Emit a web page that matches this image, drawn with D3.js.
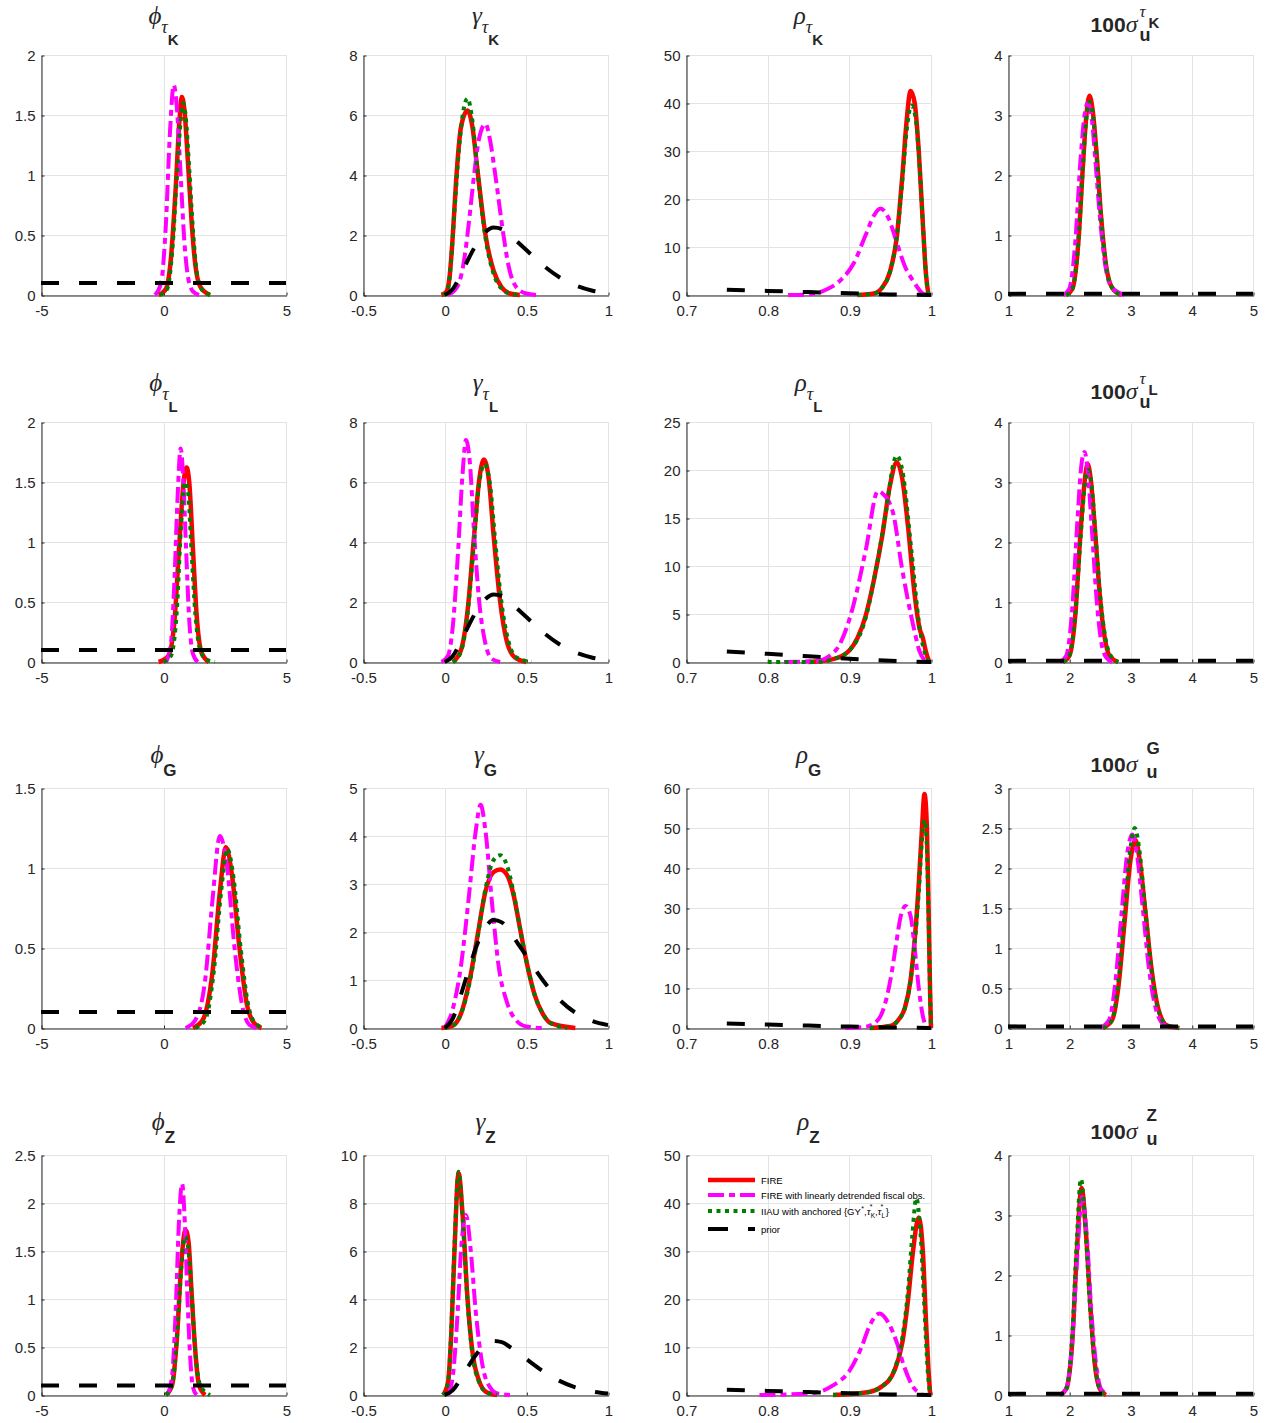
<!DOCTYPE html>
<html>
<head>
<meta charset="utf-8">
<script src="https://cdn.jsdelivr.net/npm/d3@7"></script>
<style>
	body { margin: 0 ; background: #fff ; }
	svg text { fill: #262626 ; }
</style>
</head>
<body>
<svg id="fig"></svg>
<script>
'use strict' ;

// ---- data: [ x, density ] pairs ----
const priorPhi = [ [-5,0.1], [5,0.1] ] ;
const priorGamma = [ [0,0],[0.05,0.2],[0.1,0.7],[0.15,1.25],[0.2,1.75],[0.25,2.1],[0.3,2.25],[0.35,2.2],[0.4,2.0],[0.45,1.75],[0.5,1.5],[0.6,1.0],[0.7,0.6],[0.8,0.32],[0.9,0.15],[1,0.06] ] ;
const priorRho = [ [0.75,1.1],[0.8,0.85],[0.85,0.6],[0.9,0.35],[0.95,0.12],[1,0] ] ;
const priorSigma = [ [1,0.02],[5,0.02] ] ;

const phiTauK_fire = [ [-0.2,0],[0.1,0.05],[0.3,0.3],[0.5,0.9],[0.65,1.45],[0.75,1.65],[0.85,1.55],[1.0,1.1],[1.15,0.6],[1.3,0.25],[1.5,0.07],[1.9,0] ] ;
const phiTauK_detr = [ [-0.35,0],[-0.1,0.1],[0.1,0.6],[0.25,1.3],[0.42,1.75],[0.55,1.55],[0.7,1.0],[0.85,0.45],[1.0,0.15],[1.2,0.03],[1.45,0] ] ;
const phiTauK_iiau = [ [-0.15,0],[0.15,0.05],[0.35,0.35],[0.55,1.0],[0.7,1.45],[0.8,1.6],[0.9,1.5],[1.05,1.05],[1.2,0.55],[1.35,0.2],[1.55,0.05],[1.9,0] ] ;

const gammaTauK_fire = [ [-0.02,0],[0.01,0.1],[0.03,0.6],[0.05,2],[0.07,3.8],[0.1,5.6],[0.14,6.15],[0.17,5.6],[0.2,4.2],[0.25,2],[0.3,0.8],[0.35,0.25],[0.4,0.05],[0.46,0] ] ;
const gammaTauK_detr = [ [0.02,0],[0.08,0.3],[0.12,1.2],[0.15,2.5],[0.18,4],[0.21,5.2],[0.25,5.7],[0.28,5.1],[0.31,4],[0.36,2],[0.39,1],[0.44,0.25],[0.5,0.05],[0.57,0] ] ;
const gammaTauK_iiau = [ [-0.01,0],[0.02,0.2],[0.04,1.2],[0.06,2.8],[0.09,5],[0.12,6.3],[0.14,6.55],[0.17,5.8],[0.2,4.2],[0.25,1.9],[0.3,0.7],[0.35,0.2],[0.4,0.05],[0.47,0] ] ;

const rhoTauK_fire = [ [0.91,0],[0.93,0.3],[0.94,1.5],[0.95,5],[0.958,12],[0.965,25],[0.97,36],[0.975,42.5],[0.98,40],[0.985,30],[0.99,15],[0.994,4],[0.997,0] ] ;
const rhoTauK_detr = [ [0.825,0],[0.85,0.1],[0.87,1],[0.89,3.2],[0.905,6.5],[0.92,12.5],[0.93,16.5],[0.938,18],[0.948,16],[0.958,11],[0.968,6],[0.978,3],[0.99,0.3],[0.995,0] ] ;
const rhoTauK_iiau = [ [0.91,0],[0.93,0.3],[0.94,1.5],[0.95,5],[0.958,12],[0.965,24],[0.97,34],[0.976,39.5],[0.981,37],[0.986,27],[0.99,15],[0.994,4],[0.997,0] ] ;

const sigmaTauK_fire = [ [1.95,0],[2.05,0.1],[2.15,0.9],[2.22,2.1],[2.28,3.0],[2.33,3.32],[2.38,3.1],[2.45,2.3],[2.52,1.3],[2.6,0.5],[2.7,0.12],[2.85,0] ] ;
const sigmaTauK_detr = [ [1.9,0],[2.0,0.1],[2.1,0.9],[2.18,2.2],[2.25,3.0],[2.3,3.2],[2.36,3.0],[2.43,2.2],[2.5,1.3],[2.58,0.55],[2.68,0.15],[2.9,0] ] ;
const sigmaTauK_iiau = [ [1.95,0],[2.05,0.1],[2.15,0.9],[2.22,2.1],[2.28,2.95],[2.33,3.22],[2.38,3.05],[2.45,2.3],[2.52,1.3],[2.6,0.5],[2.7,0.12],[2.85,0] ] ;

const phiTauL_fire = [ [-0.2,0],[0.2,0.05],[0.45,0.35],[0.65,1.0],[0.82,1.5],[0.95,1.62],[1.05,1.5],[1.2,0.95],[1.35,0.4],[1.55,0.08],[1.85,0] ] ;
const phiTauL_detr = [ [0.1,0],[0.3,0.15],[0.45,0.7],[0.57,1.35],[0.7,1.78],[0.8,1.55],[0.92,0.95],[1.05,0.35],[1.2,0.07],[1.4,0] ] ;
const phiTauL_iiau = [ [0,0],[0.3,0.05],[0.55,0.45],[0.72,1.15],[0.88,1.5],[1.0,1.42],[1.15,0.9],[1.3,0.4],[1.5,0.1],[1.75,0.02],[2.1,0] ] ;

const gammaTauL_fire = [ [0.05,0],[0.1,0.4],[0.14,1.7],[0.18,4.2],[0.21,6.0],[0.24,6.75],[0.27,6.1],[0.3,4.2],[0.34,2.0],[0.38,0.7],[0.43,0.15],[0.5,0] ] ;
const gammaTauL_detr = [ [-0.02,0],[0.02,0.2],[0.05,1.2],[0.08,3.5],[0.11,6.3],[0.13,7.4],[0.155,6.6],[0.18,4.3],[0.21,2.1],[0.25,0.6],[0.29,0.1],[0.34,0] ] ;
const gammaTauL_iiau = [ [0.05,0],[0.1,0.35],[0.14,1.6],[0.18,4.0],[0.21,5.9],[0.245,6.6],[0.28,5.8],[0.31,4.0],[0.35,1.9],[0.39,0.7],[0.44,0.15],[0.53,0] ] ;

const rhoTauL_fire = [ [0.85,0],[0.88,0.3],[0.9,1.2],[0.91,2.5],[0.92,4.8],[0.93,8.5],[0.94,13],[0.95,18.5],[0.958,20.8],[0.965,19],[0.972,14],[0.98,7],[0.986,3.5],[0.99,2.5],[0.994,1],[0.998,0] ] ;
const rhoTauL_detr = [ [0.82,0],[0.86,0.1],[0.875,0.6],[0.888,1.8],[0.904,5.6],[0.92,11.6],[0.935,17.8],[0.94,17.6],[0.953,15.7],[0.965,9.5],[0.978,3.9],[0.986,1.1],[0.994,0] ] ;
const rhoTauL_iiau = [ [0.8,0],[0.86,0],[0.88,0.3],[0.9,1.2],[0.92,4.6],[0.933,9.8],[0.945,15.7],[0.955,21],[0.958,21.5],[0.965,19.9],[0.976,11.6],[0.986,3.6],[0.992,1.1],[0.998,0] ] ;

const sigmaTauL_fire = [ [1.9,0],[2.0,0.1],[2.1,0.8],[2.18,2.1],[2.25,3.0],[2.3,3.3],[2.35,3.05],[2.42,2.2],[2.5,1.1],[2.58,0.4],[2.66,0.1],[2.8,0] ] ;
const sigmaTauL_detr = [ [1.85,0],[1.95,0.1],[2.05,0.9],[2.13,2.3],[2.2,3.3],[2.25,3.5],[2.3,3.2],[2.37,2.2],[2.45,1.0],[2.52,0.35],[2.6,0.08],[2.7,0] ] ;
const sigmaTauL_iiau = [ [1.9,0],[2.0,0.1],[2.1,0.8],[2.18,2.0],[2.25,2.9],[2.31,3.2],[2.36,3.0],[2.43,2.1],[2.51,1.05],[2.59,0.4],[2.68,0.1],[2.8,0] ] ;

const phiG_fire = [ [1.2,0],[1.6,0.05],[2.0,0.35],[2.3,0.85],[2.55,1.13],[2.8,0.95],[3.1,0.5],[3.4,0.15],[3.7,0.03],[4.0,0] ] ;
const phiG_detr = [ [0.9,0],[1.3,0.05],[1.7,0.3],[2.0,0.8],[2.3,1.2],[2.6,1.0],[2.9,0.5],[3.2,0.15],[3.5,0.02],[3.8,0] ] ;
const phiG_iiau = [ [1.3,0],[1.7,0.05],[2.05,0.35],[2.35,0.85],[2.6,1.12],[2.85,0.95],[3.15,0.5],[3.45,0.15],[3.75,0.03],[4.1,0] ] ;

const gammaG_fire = [ [-0.02,0],[0.05,0.05],[0.1,0.3],[0.15,0.95],[0.2,1.9],[0.25,2.85],[0.3,3.25],[0.34,3.3],[0.38,3.2],[0.42,2.8],[0.46,2.1],[0.5,1.4],[0.55,0.7],[0.6,0.3],[0.65,0.1],[0.8,0] ] ;
const gammaG_detr = [ [0,0],[0.05,0.4],[0.1,1.3],[0.15,2.8],[0.19,4.1],[0.22,4.65],[0.25,4.1],[0.29,2.6],[0.33,1.3],[0.38,0.55],[0.44,0.15],[0.5,0.03],[0.6,0] ] ;
const gammaG_iiau = [ [0,0],[0.05,0.05],[0.1,0.3],[0.15,0.9],[0.2,1.85],[0.25,2.9],[0.3,3.5],[0.34,3.6],[0.38,3.4],[0.42,2.85],[0.46,2.1],[0.5,1.4],[0.55,0.7],[0.6,0.3],[0.65,0.1],[0.75,0] ] ;

const rhoG_fire = [ [0.925,0],[0.95,0.5],[0.96,2],[0.968,5],[0.975,12],[0.98,22],[0.985,36],[0.989,50],[0.992,58.5],[0.995,50],[0.997,30],[0.999,8],[1,0] ] ;
const rhoG_detr = [ [0.895,0],[0.92,0.3],[0.935,2],[0.945,7],[0.952,14],[0.958,22],[0.963,28],[0.969,30.5],[0.975,28],[0.98,20],[0.985,10],[0.99,3],[0.996,0] ] ;
const rhoG_iiau = [ [0.925,0],[0.95,0.5],[0.96,2],[0.968,5],[0.975,12],[0.98,21],[0.985,34],[0.989,47],[0.992,52],[0.995,45],[0.997,28],[0.999,8],[1,0] ] ;

const sigmaG_fire = [ [2.55,0],[2.7,0.1],[2.8,0.5],[2.9,1.3],[3.0,2.1],[3.08,2.35],[3.15,2.1],[3.25,1.4],[3.35,0.7],[3.45,0.25],[3.6,0.03],[3.8,0] ] ;
const sigmaG_detr = [ [2.5,0],[2.65,0.1],[2.75,0.55],[2.85,1.4],[2.95,2.2],[3.03,2.42],[3.1,2.2],[3.2,1.5],[3.3,0.75],[3.4,0.28],[3.55,0.04],[3.75,0] ] ;
const sigmaG_iiau = [ [2.55,0],[2.7,0.1],[2.8,0.55],[2.9,1.4],[3.0,2.25],[3.07,2.5],[3.14,2.25],[3.24,1.5],[3.34,0.75],[3.44,0.27],[3.6,0.03],[3.8,0] ] ;

const phiZ_fire = [ [0.1,0],[0.35,0.1],[0.55,0.6],[0.72,1.35],[0.9,1.72],[1.02,1.6],[1.15,1.05],[1.3,0.45],[1.45,0.1],[1.7,0] ] ;
const phiZ_detr = [ [0.15,0],[0.35,0.2],[0.5,0.9],[0.63,1.8],[0.76,2.2],[0.87,1.8],[0.98,1.0],[1.1,0.35],[1.2,0.08],[1.35,0] ] ;
const phiZ_iiau = [ [0.1,0],[0.35,0.1],[0.55,0.6],[0.72,1.3],[0.88,1.65],[1.0,1.55],[1.15,1.05],[1.3,0.45],[1.5,0.1],[1.9,0] ] ;

const gammaZ_fire = [ [-0.01,0],[0.02,0.5],[0.04,2.5],[0.06,6],[0.085,9.25],[0.11,7.5],[0.14,4],[0.17,1.8],[0.21,0.6],[0.26,0.1],[0.32,0] ] ;
const gammaZ_detr = [ [0.02,0],[0.05,0.8],[0.08,3.5],[0.1,6],[0.13,7.5],[0.16,6],[0.19,3.5],[0.23,1.3],[0.28,0.3],[0.33,0.05],[0.4,0] ] ;
const gammaZ_iiau = [ [-0.01,0],[0.02,0.5],[0.04,2.6],[0.06,6.2],[0.085,9.3],[0.11,7.4],[0.14,3.9],[0.17,1.7],[0.21,0.55],[0.26,0.1],[0.32,0] ] ;

const rhoZ_fire = [ [0.88,0],[0.92,0.5],[0.94,1.8],[0.955,5],[0.965,11],[0.972,20],[0.978,30],[0.985,37],[0.99,30],[0.994,15],[0.997,5],[0.999,0] ] ;
const rhoZ_detr = [ [0.79,0],[0.85,0.3],[0.88,2],[0.9,5],[0.915,10],[0.925,14.5],[0.937,17],[0.948,15],[0.958,11],[0.967,6],[0.977,2],[0.99,0] ] ;
const rhoZ_iiau = [ [0.88,0],[0.92,0.5],[0.94,1.8],[0.955,5.2],[0.965,12],[0.972,22],[0.977,33],[0.982,41],[0.987,34],[0.992,18],[0.996,5],[0.999,0] ] ;

const sigmaZ_fire = [ [1.85,0],[1.95,0.1],[2.05,0.9],[2.12,2.3],[2.2,3.45],[2.28,2.6],[2.35,1.4],[2.42,0.5],[2.5,0.1],[2.6,0] ] ;
const sigmaZ_detr = [ [1.85,0],[1.95,0.1],[2.05,0.9],[2.13,2.3],[2.21,3.3],[2.29,2.6],[2.36,1.4],[2.44,0.5],[2.52,0.1],[2.65,0] ] ;
const sigmaZ_iiau = [ [1.85,0],[1.95,0.1],[2.05,1.0],[2.12,2.5],[2.19,3.6],[2.27,2.7],[2.34,1.45],[2.42,0.5],[2.5,0.1],[2.6,0] ] ;

// ---- ticks ----
const xTicksPhi = [ -5, 0, 5 ] ;
const xTicksGamma = [ -0.5, 0, 0.5, 1 ] ;
const xTicksRho = [ 0.7, 0.8, 0.9, 1 ] ;
const xTicksSigma = [ 1, 2, 3, 4, 5 ] ;
const yTicks = [
	[ [0,0.5,1,1.5,2], [0,2,4,6,8], [0,10,20,30,40,50], [0,1,2,3,4] ],
	[ [0,0.5,1,1.5,2], [0,2,4,6,8], [0,5,10,15,20,25], [0,1,2,3,4] ],
	[ [0,0.5,1,1.5], [0,1,2,3,4,5], [0,10,20,30,40,50,60], [0,0.5,1,1.5,2,2.5,3] ],
	[ [0,0.5,1,1.5,2,2.5], [0,2,4,6,8,10], [0,10,20,30,40,50], [0,1,2,3,4] ]
] ;
const rowShocks = [ 'K', 'L', 'G', 'Z' ] ;
const legendLabels = [ 'FIRE', 'FIRE with linearly detrended fiscal obs.', 'IIAU with anchored {GY', 'prior' ] ;

const series = [
	[ [phiTauK_fire, phiTauK_detr, phiTauK_iiau, priorPhi], [gammaTauK_fire, gammaTauK_detr, gammaTauK_iiau, priorGamma], [rhoTauK_fire, rhoTauK_detr, rhoTauK_iiau, priorRho], [sigmaTauK_fire, sigmaTauK_detr, sigmaTauK_iiau, priorSigma] ],
	[ [phiTauL_fire, phiTauL_detr, phiTauL_iiau, priorPhi], [gammaTauL_fire, gammaTauL_detr, gammaTauL_iiau, priorGamma], [rhoTauL_fire, rhoTauL_detr, rhoTauL_iiau, priorRho], [sigmaTauL_fire, sigmaTauL_detr, sigmaTauL_iiau, priorSigma] ],
	[ [phiG_fire, phiG_detr, phiG_iiau, priorPhi], [gammaG_fire, gammaG_detr, gammaG_iiau, priorGamma], [rhoG_fire, rhoG_detr, rhoG_iiau, priorRho], [sigmaG_fire, sigmaG_detr, sigmaG_iiau, priorSigma] ],
	[ [phiZ_fire, phiZ_detr, phiZ_iiau, priorPhi], [gammaZ_fire, gammaZ_detr, gammaZ_iiau, priorGamma], [rhoZ_fire, rhoZ_detr, rhoZ_iiau, priorRho], [sigmaZ_fire, sigmaZ_detr, sigmaZ_iiau, priorSigma] ]
] ;
const xTicksByCol = [ xTicksPhi, xTicksGamma, xTicksRho, xTicksSigma ] ;

// ---- look ----
const geom = {
	left: 41, top: 55, width: 245, height: 240,
	colStep: 322.3, rowStep: 366.7
} ;
const styles = [
	{ colour: '#ff0000', width: 4.5, dash: null },
	{ colour: '#ff00ff', width: 4, dash: '16,5,6,5' },
	{ colour: '#008000', width: 4, dash: '4,4.5' },
	{ colour: '#000000', width: 4, dash: '18,20' }
] ;
const serif = '"Liberation Serif", "DejaVu Serif", serif' ;
const sans = '"Liberation Sans", Arial, sans-serif' ;

let svg = d3.select( '#fig' )
	.attr( 'width', 1270 )
	.attr( 'height', 1423 ) ;
svg.append( 'rect' ).attr( 'width', 1270 ).attr( 'height', 1423 ).attr( 'fill', '#fff' ) ;

let fmt = d => String( d ) ;

let addText = function( g, x, y, txt, font, size, opts = {} ) {
	return g.append( 'text' )
		.attr( 'x', x )
		.attr( 'y', y )
		.attr( 'font-family', font )
		.attr( 'font-size', size )
		.attr( 'font-style', opts.italic ? 'italic' : null )
		.attr( 'font-weight', opts.bold ? 'bold' : null )
		.attr( 'text-anchor', opts.anchor || null )
		.style( 'fill', opts.fill || null )
		.text( txt ) ;
} ;

let drawTitle = function( g, r, c ) {
	let cx = geom.width / 2 ;
	let shock = rowShocks[r] ;
	let isTau = r < 2 ;
	if( c < 3 ) {
		let t = g.append( 'text' )
			.attr( 'x', cx )
			.attr( 'y', isTau ? -31 : -25 )
			.attr( 'text-anchor', 'middle' ) ;
		t.append( 'tspan' )
			.attr( 'font-family', serif ).attr( 'font-style', 'italic' ).attr( 'font-size', 25 )
			.text( [ 'ϕ', 'γ', 'ρ' ][c] ) ;
		if( isTau ) {
			t.append( 'tspan' ).attr( 'dy', 9 )
				.attr( 'font-family', serif ).attr( 'font-style', 'italic' ).attr( 'font-size', 18 )
				.text( 'τ' ) ;
			t.append( 'tspan' ).attr( 'dy', 12 )
				.attr( 'font-family', sans ).attr( 'font-weight', 'bold' ).attr( 'font-size', 15 )
				.text( shock ) ;
		} else {
			t.append( 'tspan' ).attr( 'dy', 13 )
				.attr( 'font-family', sans ).attr( 'font-weight', 'bold' ).attr( 'font-size', 17 )
				.text( shock ) ;
		}
	} else {
		let base = isTau ? -23 : -16 ;
		let t = g.append( 'text' )
			.attr( 'x', cx + 7 )
			.attr( 'y', base )
			.attr( 'text-anchor', 'end' ) ;
		t.append( 'tspan' )
			.attr( 'font-family', sans ).attr( 'font-weight', 'bold' ).attr( 'font-size', 21 )
			.text( '100' ) ;
		t.append( 'tspan' )
			.attr( 'font-family', serif ).attr( 'font-style', 'italic' ).attr( 'font-size', 24 )
			.text( 'σ' ) ;
		if( isTau ) {
			let sx = cx + 9 ;
			addText( g, sx, -38, 'τ', serif, 17, { italic: true } ) ;
			addText( g, sx + 9, -27, shock, sans, 15, { bold: true } ) ;
			addText( g, sx, -14, 'u', sans, 18, { bold: true } ) ;
		} else {
			let sx = cx + 16 ;
			addText( g, sx, -34, shock, sans, 17, { bold: true } ) ;
			addText( g, sx, -10, 'u', sans, 18, { bold: true } ) ;
		}
	}
} ;

let drawLegend = function( g ) {
	let lg = g.append( 'g' ).attr( 'transform', 'translate(22,25)' ) ;
	let rowsY = [ 0, 15, 31, 49 ] ;
	styles.forEach( ( s, i ) => {
		lg.append( 'line' )
			.attr( 'x1', 0 ).attr( 'x2', 47 )
			.attr( 'y1', rowsY[i] ).attr( 'y2', rowsY[i] )
			.attr( 'stroke', s.colour )
			.attr( 'stroke-width', s.width )
			.attr( 'stroke-dasharray', i == 3 ? '20,20' : s.dash ) ;
		let t = addText( lg, 53, rowsY[i] + 3.5, legendLabels[i], sans, 9.5, { fill: '#000' } ) ;
		if( i == 2 ) {
			// {GY*, τ*K, τ*L} with scripts placed one by one
			let x = 53 + t.node().getComputedTextLength() ;
			let y = rowsY[i] + 3.5 ;
			let put = function( txt, dx, dy, font, size, italic ) {
				let e = addText( lg, x + dx, y + dy, txt, font, size, { italic: italic, fill: '#000' } ) ;
				return e.node().getComputedTextLength() ;
			} ;
			x += put( '*', 0.5, -4, sans, 7 ) + 0.5 ;
			x += put( ', ', 0, 0, sans, 9.5 ) ;
			let w = put( 'τ', 0, 0, serif, 11, true ) ;
			put( '*', w - 1, -6, sans, 7 ) ;
			x += w + put( 'K', w, 3, sans, 6.5 ) ;
			x += put( ', ', 0, 0, sans, 9.5 ) ;
			w = put( 'τ', 0, 0, serif, 11, true ) ;
			put( '*', w - 1, -6, sans, 7 ) ;
			x += w + put( 'L', w, 3, sans, 6.5 ) ;
			put( '}', 0.5, 0, sans, 9.5 ) ;
		}
	} ) ;
} ;

for( let r = 0; r < 4; ++r ) {
	for( let c = 0; c < 4; ++c ) {
		let x0 = Math.round( geom.left + c * geom.colStep ) ;
		let y0 = Math.round( geom.top + r * geom.rowStep ) ;
		let g = svg.append( 'g' ).attr( 'transform', 'translate(' + x0 + ',' + y0 + ')' ) ;
		let xt = xTicksByCol[c] ;
		let yt = yTicks[r][c] ;
		let xs = d3.scaleLinear()
			.domain( [ xt[0], xt[xt.length - 1] ] )
			.range( [ 0, geom.width ] ) ;
		let ys = d3.scaleLinear()
			.domain( [ 0, yt[yt.length - 1] ] )
			.range( [ geom.height, 0 ] ) ;

		// grid
		g.selectAll( 'line.vgrid' )
			.data( xt )
			.enter()
			.append( 'line' )
			.attr( 'class', 'vgrid' )
			.attr( 'x1', d => Math.round( xs(d) ) + 0.5 )
			.attr( 'x2', d => Math.round( xs(d) ) + 0.5 )
			.attr( 'y1', 0 )
			.attr( 'y2', geom.height )
			.attr( 'stroke', '#e3e3e3' ) ;
		g.selectAll( 'line.hgrid' )
			.data( yt )
			.enter()
			.append( 'line' )
			.attr( 'class', 'hgrid' )
			.attr( 'x1', 0 )
			.attr( 'x2', geom.width )
			.attr( 'y1', d => Math.round( ys(d) ) + 0.5 )
			.attr( 'y2', d => Math.round( ys(d) ) + 0.5 )
			.attr( 'stroke', '#e3e3e3' ) ;

		// axes
		let xAxis = d3.axisBottom( xs ).tickValues( xt ).tickFormat( fmt )
			.tickSizeInner( -3 ).tickSizeOuter( 0 ).tickPadding( 10 ) ;
		let yAxis = d3.axisLeft( ys ).tickValues( yt ).tickFormat( fmt )
			.tickSizeInner( -3 ).tickSizeOuter( 0 ).tickPadding( 6 ) ;
		let gx = g.append( 'g' )
			.attr( 'transform', 'translate(0.5,' + ( geom.height + 0.5 ) + ')' )
			.call( xAxis ) ;
		let gy = g.append( 'g' )
			.attr( 'transform', 'translate(0.5,0.5)' )
			.call( yAxis ) ;
		[ gx, gy ].forEach( a => {
			a.selectAll( 'path, line' ).attr( 'stroke', '#262626' ) ;
			a.selectAll( 'text' )
				.attr( 'font-family', sans )
				.attr( 'font-size', 15 )
				.style( 'fill', '#262626' ) ;
		} ) ;

		// curves
		let line = d3.line()
			.x( d => xs( d[0] ) )
			.y( d => ys( d[1] ) )
			.curve( d3.curveMonotoneX ) ;
		series[r][c].forEach( ( s, i ) => {
			let st = styles[i] ;
			g.append( 'path' )
				.datum( s )
				.attr( 'd', line )
				.attr( 'fill', 'none' )
				.attr( 'stroke', st.colour )
				.attr( 'stroke-width', st.width )
				.attr( 'stroke-dasharray', st.dash )
				.attr( 'stroke-linejoin', 'round' ) ;
		} ) ;

		drawTitle( g, r, c ) ;
		if( r == 3 && c == 2 ) {
			drawLegend( g ) ;
		}
	}
}
</script>
</body>
</html>
